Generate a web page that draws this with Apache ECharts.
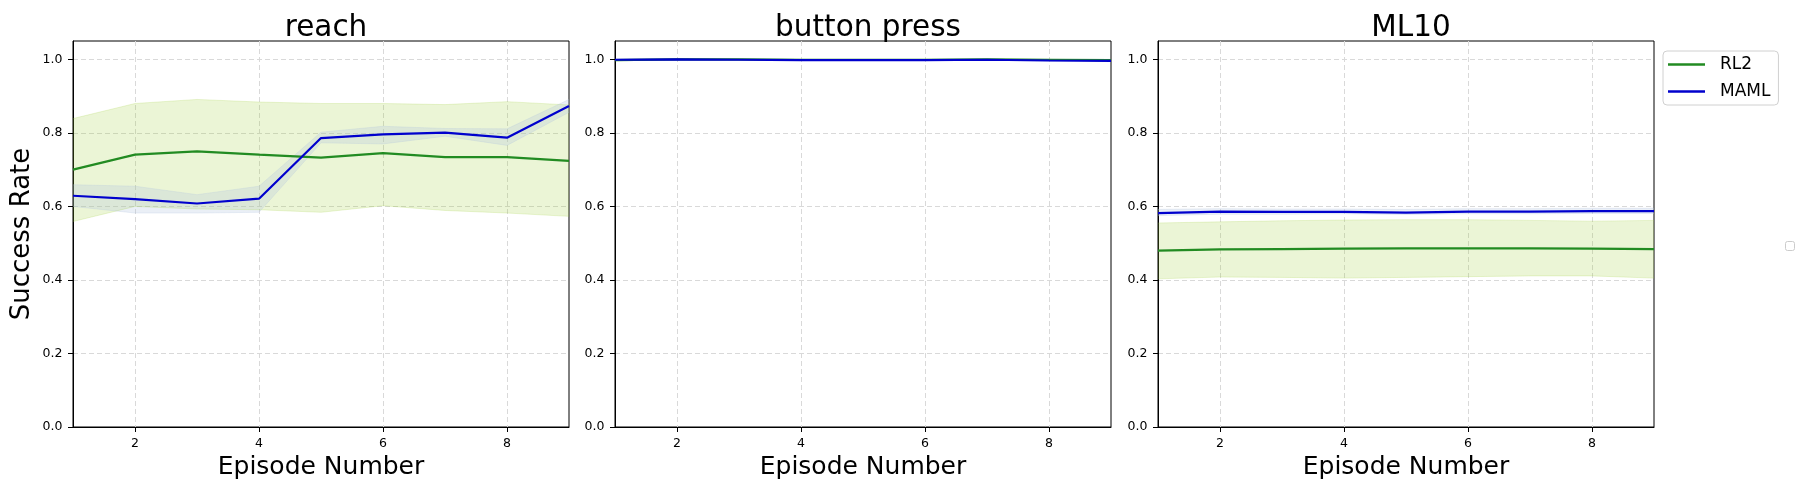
<!DOCTYPE html>
<html>
<head>
<meta charset="utf-8">
<title>Success Rate per Episode</title>
<script src="https://cdn.jsdelivr.net/npm/echarts@6/dist/echarts.min.js"></script>
<style>
  html, body { margin: 0; padding: 0; background: #fff; }
  #chart { width: 1799px; height: 490px; }
</style>
</head>
<body>
<div id="chart"></div>
<script>
  // x axis: episode number, y axis: success rate
  var episodes = ['1', '2', '3', '4', '5', '6', '7', '8', '9']
  var xTicks = ['2', '4', '6', '8']
  var yTicks = [0, 0.2, 0.4, 0.6, 0.8, 1.0]

  var panelTitles = ['reach', 'button press', 'ML10']

  // reach
  var reachRL2 = [0.700, 0.741, 0.750, 0.741, 0.733, 0.745, 0.734, 0.734, 0.724]
  var reachRL2Upper = [0.839, 0.880, 0.891, 0.884, 0.880, 0.880, 0.877, 0.885, 0.876]
  var reachRL2Lower = [0.559, 0.600, 0.593, 0.591, 0.584, 0.602, 0.589, 0.582, 0.573]
  var reachMAML = [0.629, 0.620, 0.608, 0.621, 0.786, 0.796, 0.801, 0.787, 0.873]
  var reachMAMLUpper = [0.659, 0.655, 0.632, 0.655, 0.802, 0.818, 0.812, 0.811, 0.891]
  var reachMAMLLower = [0.600, 0.582, 0.582, 0.584, 0.773, 0.770, 0.791, 0.766, 0.856]

  // button press
  var buttonRL2 = [0.998, 1.000, 1.000, 0.999, 0.999, 0.999, 1.000, 0.999, 0.998]
  var buttonRL2Upper = [1.000, 1.001, 1.001, 1.000, 1.000, 1.000, 1.001, 1.000, 1.000]
  var buttonRL2Lower = [0.996, 0.999, 0.999, 0.998, 0.998, 0.998, 0.999, 0.998, 0.996]
  var buttonMAML = [0.999, 1.000, 0.999, 0.998, 0.998, 0.998, 0.999, 0.997, 0.996]
  var buttonMAMLUpper = [1.000, 1.001, 1.000, 0.999, 0.999, 0.999, 1.000, 0.999, 0.998]
  var buttonMAMLLower = [0.998, 0.999, 0.998, 0.997, 0.997, 0.997, 0.998, 0.995, 0.994]

  // ML10
  var ml10RL2 = [0.480, 0.483, 0.484, 0.485, 0.486, 0.486, 0.486, 0.485, 0.484]
  var ml10RL2Upper = [0.555, 0.558, 0.561, 0.563, 0.564, 0.564, 0.562, 0.560, 0.562]
  var ml10RL2Lower = [0.403, 0.408, 0.407, 0.405, 0.407, 0.409, 0.411, 0.411, 0.405]
  var ml10MAML = [0.582, 0.586, 0.585, 0.585, 0.583, 0.586, 0.586, 0.587, 0.587]
  var ml10MAMLUpper = [0.592, 0.594, 0.593, 0.593, 0.592, 0.594, 0.594, 0.595, 0.595]
  var ml10MAMLLower = [0.575, 0.579, 0.579, 0.580, 0.578, 0.580, 0.580, 0.581, 0.581]

  var panels = [
    { rl2: reachRL2, rl2Up: reachRL2Upper, rl2Lo: reachRL2Lower, maml: reachMAML, mamlUp: reachMAMLUpper, mamlLo: reachMAMLLower },
    { rl2: buttonRL2, rl2Up: buttonRL2Upper, rl2Lo: buttonRL2Lower, maml: buttonMAML, mamlUp: buttonMAMLUpper, mamlLo: buttonMAMLLower },
    { rl2: ml10RL2, rl2Up: ml10RL2Upper, rl2Lo: ml10RL2Lower, maml: ml10MAML, mamlUp: ml10MAMLUpper, mamlLo: ml10MAMLLower }
  ]

  var RL2_COLOR = '#228b22'
  var MAML_COLOR = '#0000cd'
  var RL2_BAND = 'rgba(154,205,50,0.2)'
  var MAML_BAND = 'rgba(176,196,222,0.27)'
  var FONT = 'DejaVu Sans'

  var gridLeft = [73, 615, 1158]
  var gridWidth = 496

  function onTick(index, value) {
    return xTicks.indexOf(value) >= 0
  }

  /** 上下界之间的阴影带：下界透明线 + 差值堆叠面积 */
  function band(idx, key, lower, upper, color) {
    var stack = key + idx
    return [
      {
        name: key + ' lower', type: 'line', xAxisIndex: idx, yAxisIndex: idx,
        stack: stack, symbol: 'none', silent: true, z: 1,
        lineStyle: { width: 1, color: color },
        data: lower
      },
      {
        name: key + ' band', type: 'line', xAxisIndex: idx, yAxisIndex: idx,
        stack: stack, symbol: 'none', silent: true, z: 1,
        lineStyle: { width: 1, color: color },
        areaStyle: { color: color, opacity: 1 },
        data: upper.map(function(u, i) { return u - lower[i] })
      }
    ]
  }

  function line(idx, name, ys, color) {
    return {
      name: name, type: 'line', xAxisIndex: idx, yAxisIndex: idx,
      symbol: 'none', z: 3, color: color,
      lineStyle: { width: 2.2, color: color },
      data: ys
    }
  }

  var series = []
  panels.forEach(function(p, i) {
    series = series.concat(band(i, 'RL2', p.rl2Lo, p.rl2Up, RL2_BAND))
    series = series.concat(band(i, 'MAML', p.mamlLo, p.mamlUp, MAML_BAND))
    series.push(line(i, 'RL2', p.rl2, RL2_COLOR))
    series.push(line(i, 'MAML', p.maml, MAML_COLOR))
  })

  var gridLineStyle = { color: '#d9d9d9', type: [5, 3], width: 1 }

  var option = {
    animation: false,
    textStyle: { fontFamily: FONT, color: '#000' },
    title: panelTitles.map(function(t, i) {
      return {
        text: t, left: gridLeft[i] + gridWidth / 2, top: 8, textAlign: 'center',
        textStyle: { fontSize: 29.5, fontWeight: 'normal', color: '#000', fontFamily: FONT }
      }
    }),
    legend: {
      data: ['RL2', 'MAML'], orient: 'vertical', left: 1663, top: 51,
      icon: 'rect', itemWidth: 37, itemHeight: 2.5, itemGap: 10,
      borderColor: '#d0d0d0', borderWidth: 1, borderRadius: 4,
      padding: [5, 8, 5, 5], backgroundColor: '#fff',
      textStyle: { fontSize: 17, color: '#000', fontFamily: FONT, padding: [0, 0, 0, 10] }
    },
    grid: gridLeft.map(function(l) {
      return { left: l, width: gridWidth, top: 41, height: 386, show: true, borderColor: '#000', borderWidth: 1, backgroundColor: 'transparent' }
    }),
    xAxis: gridLeft.map(function(l, i) {
      return {
        type: 'category', gridIndex: i, data: episodes, boundaryGap: false,
        name: 'Episode Number', nameLocation: 'middle', nameGap: 28,
        nameTextStyle: { fontSize: 25, color: '#000', fontFamily: FONT },
        axisLine: { show: true, lineStyle: { color: '#000', width: 1 } },
        axisTick: { show: true, length: 5, interval: onTick, lineStyle: { color: '#000' } },
        axisLabel: { fontSize: 12.5, color: '#000', margin: 10, interval: onTick },
        splitLine: { show: true, interval: onTick, lineStyle: gridLineStyle }
      }
    }),
    yAxis: gridLeft.map(function(l, i) {
      return {
        type: 'value', gridIndex: i, min: 0, max: 1.05, interval: 0.2,
        name: i === 0 ? 'Success Rate' : '', nameLocation: 'middle', nameGap: 38,
        nameTextStyle: { fontSize: 26, color: '#000', fontFamily: FONT },
        axisLine: { show: true, lineStyle: { color: '#000', width: 1 } },
        axisTick: { show: true, length: 5, customValues: yTicks, lineStyle: { color: '#000' } },
        axisLabel: {
          fontSize: 12.5, color: '#000', margin: 10.5, customValues: yTicks,
          formatter: function(v) { return v.toFixed(1) }
        },
        splitLine: { show: true, lineStyle: gridLineStyle }
      }
    }),
    graphic: [
      // 右侧空白小图例框
      { type: 'rect', left: 1785, top: 241, shape: { width: 9, height: 9, r: 2 }, style: { fill: '#fff', stroke: '#cccccc', lineWidth: 1 } }
    ],
    series: series
  }

  var chart = echarts.init(document.getElementById('chart'))
  chart.setOption(option)
</script>
</body>
</html>
